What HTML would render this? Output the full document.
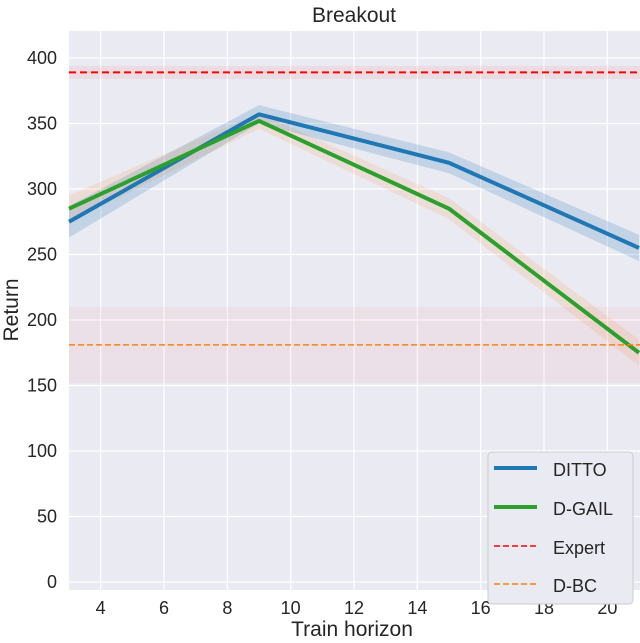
<!DOCTYPE html>
<html><head><meta charset="utf-8"><style>
body{margin:0;background:#fff;}
svg text{font-family:"Liberation Sans",Arial,sans-serif;fill:#262626;}
</style></head><body>
<svg id="chart" width="640" height="638" viewBox="0 0 640 638">
<rect x="69" y="31" width="571" height="559" fill="#eaeaf2"/>
<g id="grid"></g><g id="bands"></g><g id="lines"></g><g id="ticks"></g>
<text x="354" y="22" font-size="21" text-anchor="middle">Breakout</text>
<text x="352" y="636" font-size="21" text-anchor="middle">Train horizon</text>
<text transform="translate(18,310) rotate(-90)" font-size="21" text-anchor="middle">Return</text>
<g>
<rect x="488" y="452" width="145" height="152" rx="4" fill="#eaeaf2" stroke="#cccccc" stroke-width="1"/>
<line x1="494" y1="468" x2="537" y2="468" stroke="#1f77b4" stroke-width="4"/>
<text x="553" y="476" font-size="18">DITTO</text>
<line x1="494" y1="507" x2="537" y2="507" stroke="#2ca02c" stroke-width="4"/>
<text x="553" y="515" font-size="18">D-GAIL</text>
<line x1="494" y1="546" x2="537" y2="546" stroke="#ff0000" stroke-width="1.5" stroke-dasharray="6,3"/>
<text x="553" y="554" font-size="18">Expert</text>
<line x1="494" y1="584" x2="537" y2="584" stroke="#ff7f0e" stroke-width="1.5" stroke-dasharray="6,3"/>
<text x="553" y="592" font-size="18">D-BC</text>
</g>
</svg>
<script>
const horizons=[3,9,15,21];
const dittoMean=[275,357,320,255];
const dittoErr=[12,7,8,10];
const dgailMean=[285,352,285,175];
const dgailErr=[10,6,8,10];
const expertVal=389, expertErr=5;
const dbcVal=181, dbcErr=29;
const xTicks=[4,6,8,10,12,14,16,18,20];
const yTicks=[0,50,100,150,200,250,300,350,400];
const X=v=>69+(v-3)*(570/18);
const Y=v=>582-v*(524/400);
const NS="http://www.w3.org/2000/svg";
function mk(t,a,p){const e=document.createElementNS(NS,t);for(const k in a)e.setAttribute(k,a[k]);document.getElementById(p).appendChild(e);return e;}
xTicks.forEach(t=>{
 const g=mk('line',{x1:X(t),x2:X(t),y1:31,y2:590,stroke:'#fff','stroke-width':1.2},'grid');
 
 
 const l=mk('text',{x:X(t),y:614,'font-size':18,'text-anchor':'middle'},'ticks');l.textContent=t;
 
 
});
yTicks.forEach(t=>{
 const g=mk('line',{x1:69,x2:640,y1:Y(t),y2:Y(t),stroke:'#fff','stroke-width':1.2},'grid');
 
 
 const l=mk('text',{x:57,y:Y(t)+6,'font-size':18,'text-anchor':'end'},'ticks');l.textContent=t;
 
 
});
function band(m,e,c,op,name){
 let d='M'+horizons.map((h,i)=>X(h)+','+Y(m[i]+e[i])).join('L');
 d+='L'+horizons.slice().reverse().map((h,j)=>{const i=horizons.length-1-j;return X(h)+','+Y(m[i]-e[i]);}).join('L')+'Z';
 const p=mk('path',{d:d,fill:c,'fill-opacity':op},'bands');
 
 
}
function hband(v,e,c,name){
 const r=mk('rect',{x:69,width:571,y:Y(v+e),height:Y(v-e)-Y(v+e),fill:c,'fill-opacity':0.06},'bands');
 
 
}
hband(expertVal,expertErr,'#ff0000','expert-band');
hband(dbcVal,dbcErr,'#ff4040','dbc-band');
band(dittoMean,dittoErr,'#1f77b4',0.2,'ditto-band');
band(dgailMean,dgailErr,'#ff7f0e',0.12,'dgail-band');
function line(m,c,name){
 const p=mk('polyline',{points:horizons.map((h,i)=>X(h)+','+Y(m[i])).join(' '),fill:'none',stroke:c,'stroke-width':4,'stroke-linejoin':'round'},'lines');
 
 
}
line(dittoMean,'#1f77b4','ditto-line');
line(dgailMean,'#2ca02c','dgail-line');
const ex=mk('line',{x1:69,x2:640,y1:Y(expertVal),y2:Y(expertVal),stroke:'#ff0000','stroke-width':2,'stroke-dasharray':'7,4'},'lines');


const bc=mk('line',{x1:69,x2:640,y1:Y(dbcVal),y2:Y(dbcVal),stroke:'#ff7f0e','stroke-width':1.5,'stroke-dasharray':'6,3'},'lines');


</script>
</body></html>
